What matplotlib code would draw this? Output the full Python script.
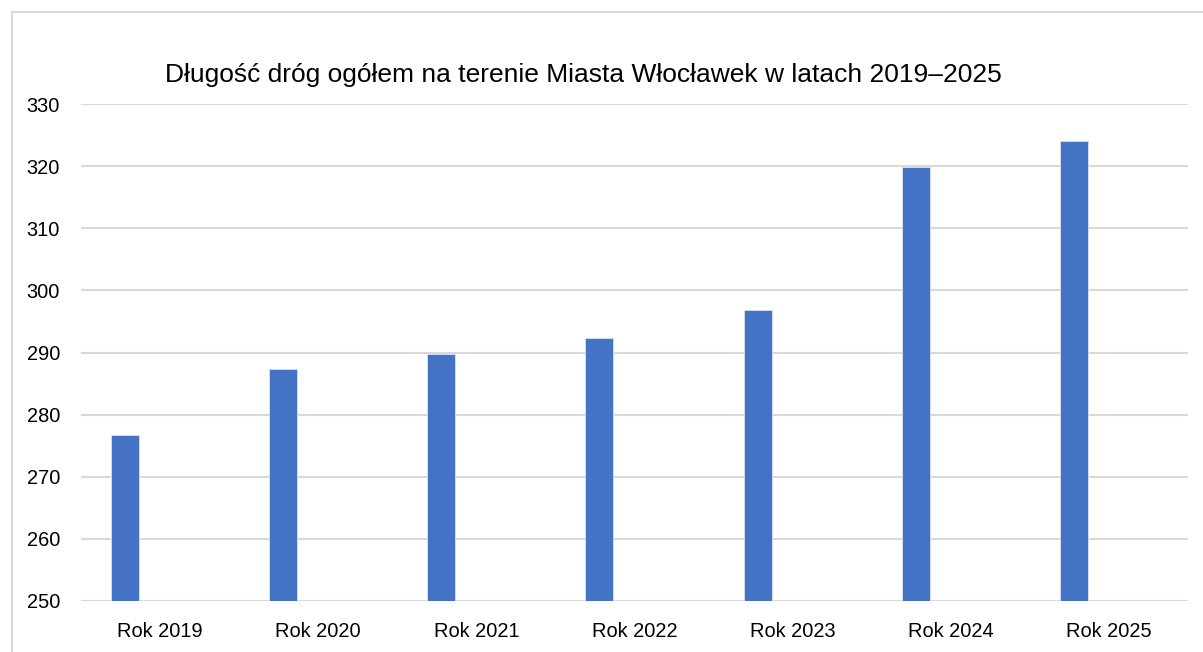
import matplotlib
matplotlib.use("Agg")
import matplotlib.pyplot as plt
from matplotlib.patches import Rectangle

# dane do wykresu
years = ["Rok 2019", "Rok 2020", "Rok 2021", "Rok 2022", "Rok 2023", "Rok 2024", "Rok 2025"]
lengths = [276.8, 287.3, 289.7, 292.4, 296.8, 319.9, 324.1]
y_ticks = [250, 260, 270, 280, 290, 300, 310, 320, 330]
title = "Długość dróg ogółem na terenie Miasta Włocławek w latach 2019–2025"

plt.rcParams['font.family'] = ['Liberation Sans', 'DejaVu Sans']

fig = plt.figure(figsize=(12.03, 6.52), dpi=100)
ax = fig.add_axes([81 / 1203, 51 / 652, 1107 / 1203, 497 / 652])

# ramka wokol wykresu (jak w Excelu)
fig.patches.append(Rectangle((11.5 / 1203, -0.1), 1.2, (652 - 12) / 652 + 0.1,
                             transform=fig.transFigure, fill=False,
                             edgecolor="#d9d9d9", linewidth=1.5))

x = list(range(len(years)))
bar_x = [i - 0.2215 for i in x]
ax.bar(bar_x, lengths, width=0.177, color="#4472C4", edgecolor="#dae3f3",
       linewidth=0.6, zorder=3)

ax.set_xlim(-0.5, len(years) - 0.5)
ax.set_ylim(250, 330)
ax.set_yticks(y_ticks)
ax.set_xticks(x)
ax.set_xticklabels(years)
ax.tick_params(axis="both", length=0, labelsize=14.4)
ax.tick_params(axis="y", pad=15)
ax.tick_params(axis="x", pad=15)
ax.grid(axis="y", color="#d9d9d9", linewidth=1.5, zorder=0)
for s in ax.spines.values():
    s.set_visible(False)

fig.text(583.5 / 1203, 1 - 75 / 652, title, ha="center", va="center", fontsize=19)

plt.savefig("out.png", dpi=100)
